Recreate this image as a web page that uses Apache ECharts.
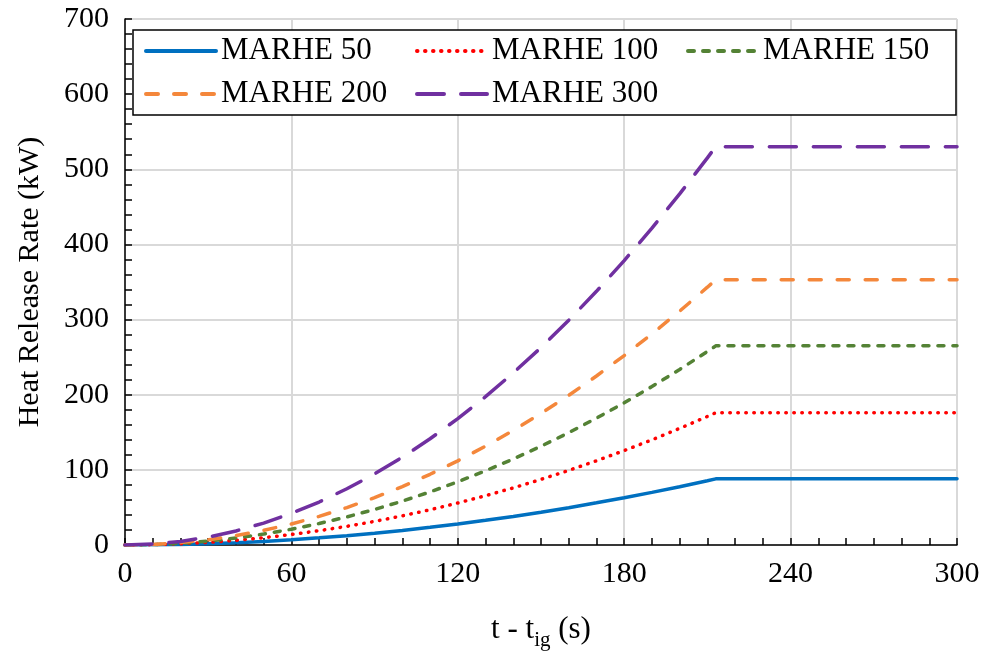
<!DOCTYPE html>
<html>
<head>
<meta charset="utf-8">
<script src="https://cdn.jsdelivr.net/npm/echarts@6/dist/echarts.min.js"></script>
<style>
html,body{margin:0;padding:0;background:#fff;}
#chart{width:984px;height:651px;}
</style>
</head>
<body>
<div id="chart"></div>
<script>
const times = [0,10,20,30,40,50,60,70,80,90,100,110,120,130,140,150,160,170,180,190,200,210,213,300];
const marhe50  = [0,0.2,0.8,1.7,3.1,4.8,7.0,9.5,12.4,15.7,19.4,23.5,27.9,32.8,38.0,43.6,49.7,56.1,62.8,70.0,77.6,85.5,88,88];
const marhe100 = [0,0.4,1.6,3.5,6.2,9.7,14.0,19.0,24.8,31.4,38.8,46.9,55.9,65.6,76.0,87.3,99.3,112.1,125.7,140.0,155.2,171.1,176,176];
const marhe150 = [0,0.6,2.3,5.3,9.3,14.6,21.0,28.6,37.4,47.3,58.4,70.7,84.1,98.7,114.5,131.4,149.5,168.8,189.2,210.9,233.6,257.6,265,265];
const marhe200 = [0,0.8,3.1,7.0,12.4,19.5,28.0,38.1,49.8,63.0,77.8,94.1,112.0,131.5,152.5,175.1,199.2,224.9,252.1,280.9,311.2,343.1,353,353];
const marhe300 = [0,1.2,4.7,10.5,18.7,29.2,42.1,57.2,74.8,94.6,116.8,141.4,168.2,197.4,229.0,262.8,299.1,337.6,378.5,421.7,467.3,515.2,530,530];
const seriesNames = ['MARHE 50','MARHE 100','MARHE 150','MARHE 200','MARHE 300'];
const xTicks = [0,60,120,180,240,300];
const yTicks = [0,100,200,300,400,500,600,700];

const font = '"Liberation Serif","Times New Roman",serif';
const pair = arr => times.map((t,i)=>[t,arr[i]]);
const styles = [
  {color:'#0070C0', type:'solid', width:3.5},
  {color:'#FF0000', type:[0.5,7.5], width:3.5},
  {color:'#548235', type:[6,9], width:3.5},
  {color:'#F4873B', type:[12,16], width:3.5},
  {color:'#7030A0', type:[27,17], width:3.5}
];
const datas = [marhe50, marhe100, marhe150, marhe200, marhe300];

const chart = echarts.init(document.getElementById('chart'));
chart.setOption({
  animation:false,
  backgroundColor:'#fff',
  grid:{left:125, right:27, top:19, bottom:106, outerBoundsMode:'none', containLabel:false},
  legend:{
    left:133, top:30, width:818,
    orient:'horizontal',
    padding:[4,8,4,11],
    borderColor:'#000', borderWidth:1.5, backgroundColor:'#fff',
    itemWidth:70, itemHeight:14, itemGap:9,
    itemStyle:{opacity:0},
    lineStyle:{width:4, cap:'round'},
    textStyle:{fontFamily:font, fontSize:31, color:'#000', width:185, lineHeight:34},
    data:seriesNames
  },
  xAxis:{
    type:'value', min:0, max:300, interval:60,
    name:'{a|t - t}{b|ig}{a| (s)}',
    nameLocation:'middle', nameGap:64,
    nameTextStyle:{rich:{
      a:{fontFamily:font, fontSize:31, color:'#000', lineHeight:42},
      b:{fontFamily:font, fontSize:21, color:'#000', lineHeight:26, verticalAlign:'bottom'}
    }},
    axisLine:{lineStyle:{color:'#000', width:1.5}},
    axisTick:{show:true, inside:true, length:7, lineStyle:{color:'#000', width:1.5}},
    minorTick:{show:true, splitNumber:6, length:7, lineStyle:{color:'#000', width:1.5}},
    axisLabel:{fontFamily:font, fontSize:30, color:'#000', margin:14, formatter:v=>xTicks.includes(v)?String(v):''},
    splitLine:{show:true, lineStyle:{color:'#D9D9D9', width:2}}
  },
  yAxis:{
    type:'value', min:0, max:700, interval:100,
    name:'Heat Release Rate (kW)',
    nameLocation:'middle', nameGap:80,
    nameTextStyle:{fontFamily:font, fontSize:30, color:'#000'},
    axisLine:{show:true, lineStyle:{color:'#000', width:1.5}},
    axisTick:{show:true, inside:true, length:7, lineStyle:{color:'#000', width:1.5}},
    minorTick:{show:true, splitNumber:5, length:7, lineStyle:{color:'#000', width:1.5}},
    axisLabel:{fontFamily:font, fontSize:30, color:'#000', margin:16, formatter:v=>yTicks.includes(v)?String(v):''},
    splitLine:{show:true, lineStyle:{color:'#D9D9D9', width:2}}
  },
  series: seriesNames.map((n,i)=>({
    name:n, type:'line', data:pair(datas[i]),
    showSymbol:false, symbol:'none', smooth:false,
    itemStyle:{color:styles[i].color},
    lineStyle:{color:styles[i].color, type:styles[i].type, width:styles[i].width, cap:'round'}
  }))
});
</script>
</body>
</html>
